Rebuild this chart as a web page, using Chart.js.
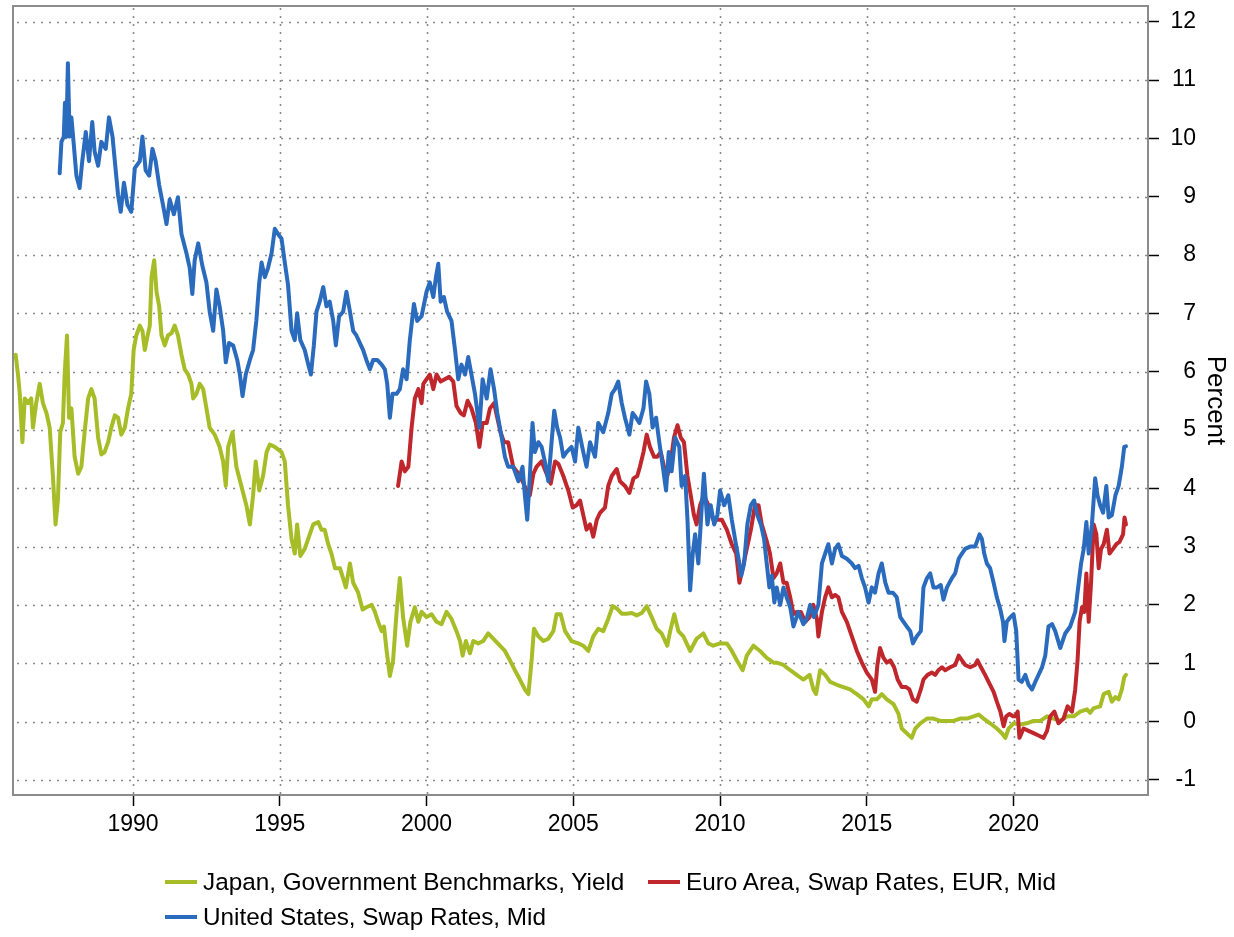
<!DOCTYPE html>
<html><head><meta charset="utf-8">
<script src="https://cdn.jsdelivr.net/npm/chart.js@4.4.0/dist/chart.umd.min.js"></script>
<style>
html,body{margin:0;padding:0;background:#fff;}
#wrap{position:relative;width:1234px;height:937px;}
#legend{position:absolute;left:0;top:0;width:1234px;height:937px;pointer-events:none;font-family:"Liberation Sans",Arial,sans-serif;font-size:24.3px;color:#000;}
.item{position:absolute;display:flex;align-items:center;white-space:nowrap;height:30px;}
.swatch{width:32px;height:4px;margin-right:6px;}
</style></head>
<body><div id="wrap"><canvas id="c" width="1234" height="937"></canvas><div id="legend"></div></div>
<script>
const xTickValues = [1990, 1995, 2000, 2005, 2010, 2015, 2020];
const yTickValues = [-1, 0, 1, 2, 3, 4, 5, 6, 7, 8, 9, 10, 11, 12];
const yTitle = "Percent";

const jpLabel = "Japan, Government Benchmarks, Yield";
const euLabel = "Euro Area, Swap Rates, EUR, Mid";
const usLabel = "United States, Swap Rates, Mid";

const jpDates = [1986.00,1986.08,1986.14,1986.23,1986.31,1986.42,1986.53,1986.59,1986.70,1986.82,1986.93,1987.05,1987.16,1987.27,1987.36,1987.44,1987.52,1987.61,1987.67,1987.75,1987.82,1987.90,1988.01,1988.13,1988.24,1988.35,1988.47,1988.58,1988.69,1988.81,1988.92,1989.03,1989.15,1989.26,1989.38,1989.49,1989.60,1989.72,1989.83,1989.94,1990.02,1990.11,1990.23,1990.32,1990.40,1990.48,1990.57,1990.63,1990.72,1990.80,1990.89,1990.97,1991.08,1991.19,1991.31,1991.42,1991.53,1991.65,1991.76,1991.88,1991.99,1992.05,1992.16,1992.27,1992.39,1992.50,1992.61,1992.78,1992.95,1993.07,1993.16,1993.24,1993.39,1993.52,1993.69,1993.86,1993.98,1994.09,1994.18,1994.30,1994.43,1994.55,1994.66,1994.83,1995.06,1995.17,1995.28,1995.40,1995.51,1995.59,1995.70,1995.85,1996.02,1996.14,1996.31,1996.42,1996.53,1996.65,1996.76,1996.88,1997.05,1997.25,1997.39,1997.50,1997.67,1997.82,1997.95,1998.13,1998.24,1998.35,1998.47,1998.55,1998.64,1998.75,1998.86,1998.98,1999.09,1999.20,1999.34,1999.45,1999.60,1999.72,1999.83,2000.00,2000.17,2000.34,2000.51,2000.68,2000.85,2001.02,2001.14,2001.23,2001.34,2001.48,2001.59,2001.76,2001.93,2002.10,2002.27,2002.50,2002.67,2002.84,2003.01,2003.18,2003.35,2003.47,2003.58,2003.66,2003.81,2003.98,2004.15,2004.32,2004.43,2004.57,2004.72,2004.94,2005.17,2005.34,2005.51,2005.68,2005.85,2006.02,2006.19,2006.34,2006.48,2006.65,2006.82,2006.99,2007.16,2007.33,2007.50,2007.67,2007.84,2008.01,2008.20,2008.30,2008.44,2008.58,2008.75,2008.98,2009.20,2009.43,2009.60,2009.77,2010.00,2010.23,2010.40,2010.57,2010.77,2010.91,2011.14,2011.36,2011.59,2011.82,2011.93,2012.16,2012.39,2012.61,2012.84,2013.05,2013.18,2013.27,2013.41,2013.58,2013.75,2013.98,2014.20,2014.43,2014.66,2014.89,2015.06,2015.17,2015.34,2015.51,2015.68,2015.91,2016.08,2016.19,2016.36,2016.53,2016.65,2016.82,2017.05,2017.27,2017.50,2017.73,2017.95,2018.18,2018.41,2018.64,2018.81,2018.98,2019.20,2019.43,2019.60,2019.72,2019.83,2020.00,2020.23,2020.45,2020.68,2020.91,2021.14,2021.36,2021.59,2021.82,2022.05,2022.27,2022.50,2022.61,2022.73,2022.95,2023.07,2023.24,2023.35,2023.47,2023.58,2023.69,2023.77,2023.83];
const jpValues = [6.29,5.95,5.62,4.79,5.54,5.46,5.54,5.04,5.46,5.79,5.46,5.29,5.04,4.21,3.38,3.79,4.96,5.12,5.95,6.62,5.21,5.37,4.54,4.25,4.37,4.96,5.54,5.70,5.54,4.87,4.58,4.62,4.79,5.04,5.25,5.21,4.92,5.04,5.37,5.62,6.37,6.62,6.79,6.70,6.37,6.58,6.79,7.62,7.91,7.37,7.12,6.62,6.45,6.62,6.66,6.79,6.62,6.29,6.04,5.95,5.79,5.54,5.62,5.79,5.70,5.37,5.04,4.92,4.71,4.46,4.04,4.71,4.96,4.37,4.04,3.71,3.38,3.88,4.46,3.96,4.21,4.62,4.75,4.71,4.62,4.46,3.71,3.13,2.88,3.38,2.84,2.96,3.21,3.38,3.42,3.29,3.29,3.04,2.88,2.63,2.63,2.30,2.71,2.38,2.21,1.92,1.96,2.00,1.88,1.71,1.55,1.63,1.21,0.78,1.05,1.88,2.46,1.79,1.30,1.71,1.96,1.71,1.88,1.79,1.84,1.71,1.67,1.88,1.76,1.55,1.38,1.13,1.38,1.17,1.38,1.34,1.38,1.51,1.42,1.30,1.21,1.05,0.88,0.72,0.55,0.47,1.05,1.59,1.46,1.38,1.42,1.55,1.84,1.84,1.55,1.38,1.34,1.30,1.21,1.46,1.59,1.55,1.76,1.98,1.94,1.85,1.85,1.86,1.82,1.86,1.98,1.79,1.59,1.51,1.30,1.55,1.84,1.55,1.46,1.21,1.42,1.51,1.34,1.30,1.34,1.34,1.21,1.05,0.88,1.13,1.30,1.21,1.09,1.01,1.01,0.97,0.88,0.80,0.72,0.80,0.55,0.47,0.88,0.80,0.68,0.63,0.59,0.55,0.47,0.38,0.26,0.38,0.38,0.47,0.38,0.30,0.13,-0.12,-0.20,-0.28,-0.12,-0.03,0.05,0.05,0.01,0.01,0.01,0.05,0.05,0.09,0.12,0.05,-0.03,-0.12,-0.20,-0.28,-0.12,-0.03,-0.05,-0.03,0.01,0.01,0.09,0.05,0.01,0.09,0.09,0.17,0.21,0.15,0.23,0.26,0.47,0.51,0.34,0.42,0.38,0.55,0.76,0.80];

const euDates = [1999.03,1999.15,1999.26,1999.38,1999.49,1999.60,1999.72,1999.83,1999.89,2000.00,2000.11,2000.23,2000.34,2000.48,2000.62,2000.77,2000.91,2001.02,2001.16,2001.27,2001.40,2001.53,2001.68,2001.80,2001.91,2002.05,2002.16,2002.30,2002.41,2002.52,2002.64,2002.78,2002.95,2003.13,2003.27,2003.41,2003.52,2003.64,2003.75,2003.92,2004.09,2004.23,2004.38,2004.49,2004.66,2004.83,2004.98,2005.11,2005.23,2005.34,2005.45,2005.57,2005.68,2005.80,2005.91,2006.08,2006.19,2006.31,2006.48,2006.59,2006.76,2006.91,2007.05,2007.18,2007.27,2007.39,2007.50,2007.61,2007.75,2007.86,2007.98,2008.09,2008.20,2008.32,2008.43,2008.55,2008.66,2008.77,2008.89,2009.00,2009.11,2009.20,2009.32,2009.45,2009.60,2009.77,2009.91,2010.06,2010.23,2010.40,2010.55,2010.66,2010.77,2010.91,2011.05,2011.19,2011.31,2011.42,2011.57,2011.70,2011.82,2011.93,2012.05,2012.16,2012.27,2012.39,2012.50,2012.61,2012.75,2012.90,2013.05,2013.18,2013.30,2013.35,2013.47,2013.58,2013.69,2013.81,2013.92,2014.03,2014.15,2014.32,2014.49,2014.66,2014.83,2015.00,2015.17,2015.28,2015.36,2015.45,2015.57,2015.68,2015.80,2015.93,2016.05,2016.19,2016.34,2016.45,2016.57,2016.70,2016.84,2016.93,2017.07,2017.22,2017.33,2017.44,2017.56,2017.67,2017.84,2018.01,2018.13,2018.24,2018.35,2018.52,2018.69,2018.77,2018.89,2019.03,2019.20,2019.32,2019.43,2019.55,2019.66,2019.75,2019.86,2019.98,2020.06,2020.14,2020.20,2020.34,2020.51,2020.68,2020.85,2021.02,2021.14,2021.25,2021.39,2021.53,2021.70,2021.84,2021.99,2022.10,2022.18,2022.25,2022.33,2022.41,2022.48,2022.56,2022.64,2022.73,2022.82,2022.90,2022.98,2023.07,2023.18,2023.27,2023.39,2023.50,2023.61,2023.73,2023.78,2023.83];
const euValues = [4.04,4.46,4.29,4.37,5.04,5.54,5.70,5.46,5.79,5.87,5.95,5.70,5.95,5.83,5.87,5.91,5.83,5.41,5.29,5.25,5.50,5.37,5.12,4.71,5.12,5.12,5.37,5.46,5.21,4.96,4.79,4.79,4.37,4.25,4.12,3.96,3.88,4.25,4.37,4.46,4.25,4.08,4.46,4.42,4.21,3.96,3.67,3.71,3.79,3.54,3.29,3.38,3.17,3.46,3.58,3.67,4.04,4.21,4.33,4.12,4.04,3.92,4.17,4.21,4.37,4.62,4.92,4.71,4.54,4.54,4.62,4.37,4.21,4.46,4.87,5.08,4.87,4.79,4.21,3.88,3.54,3.38,3.71,3.88,3.71,3.46,3.46,3.46,3.29,3.04,2.88,2.38,2.63,2.96,3.29,3.71,3.71,3.38,3.13,2.88,2.46,2.54,2.71,2.38,2.38,2.13,1.84,1.88,1.88,1.71,1.79,2.00,1.76,1.46,1.88,2.13,2.30,2.13,2.17,2.13,1.88,1.71,1.46,1.21,1.01,0.84,0.72,0.51,0.97,1.26,1.09,1.01,1.05,0.93,0.72,0.59,0.59,0.55,0.38,0.34,0.55,0.72,0.80,0.84,0.80,0.88,0.93,0.88,0.93,0.97,1.13,1.05,0.97,0.93,0.97,1.05,0.93,0.80,0.63,0.51,0.34,0.17,-0.08,0.09,0.13,0.09,0.09,0.17,-0.28,-0.12,-0.16,-0.20,-0.24,-0.28,-0.16,0.09,0.17,-0.03,0.05,0.26,0.17,0.55,1.05,1.71,1.96,1.88,2.54,1.71,2.38,3.38,3.21,2.63,2.96,3.04,3.29,2.88,2.96,3.04,3.08,3.21,3.50,3.38];

const usDates = [1987.50,1987.56,1987.64,1987.68,1987.73,1987.78,1987.84,1987.90,1987.98,1988.07,1988.18,1988.27,1988.39,1988.50,1988.61,1988.69,1988.81,1988.92,1989.07,1989.18,1989.30,1989.41,1989.49,1989.58,1989.69,1989.81,1989.94,1990.06,1990.23,1990.32,1990.43,1990.55,1990.66,1990.77,1990.89,1991.02,1991.14,1991.25,1991.39,1991.53,1991.65,1991.82,1991.93,1992.02,1992.10,1992.22,1992.36,1992.50,1992.61,1992.73,1992.84,1992.95,1993.07,1993.16,1993.27,1993.41,1993.55,1993.64,1993.73,1993.84,1993.98,1994.09,1994.20,1994.30,1994.38,1994.49,1994.60,1994.72,1994.83,1994.94,1995.06,1995.17,1995.28,1995.40,1995.51,1995.59,1995.70,1995.85,1995.97,1996.06,1996.16,1996.25,1996.36,1996.48,1996.59,1996.70,1996.82,1996.91,1997.02,1997.16,1997.27,1997.39,1997.50,1997.61,1997.73,1997.84,1997.95,1998.07,1998.18,1998.32,1998.47,1998.58,1998.66,1998.75,1998.84,1998.98,1999.09,1999.20,1999.32,1999.43,1999.57,1999.68,1999.83,2000.00,2000.11,2000.23,2000.32,2000.40,2000.48,2000.59,2000.70,2000.85,2000.97,2001.08,2001.19,2001.31,2001.42,2001.53,2001.65,2001.80,2001.91,2002.05,2002.18,2002.30,2002.41,2002.56,2002.67,2002.78,2002.95,2003.13,2003.27,2003.35,2003.43,2003.52,2003.61,2003.69,2003.81,2003.92,2004.03,2004.15,2004.26,2004.35,2004.45,2004.55,2004.66,2004.77,2004.94,2005.06,2005.17,2005.34,2005.45,2005.57,2005.74,2005.85,2006.02,2006.19,2006.31,2006.42,2006.53,2006.65,2006.76,2006.91,2007.02,2007.14,2007.25,2007.39,2007.48,2007.59,2007.70,2007.82,2007.93,2008.05,2008.16,2008.25,2008.35,2008.47,2008.61,2008.69,2008.81,2008.89,2008.98,2009.07,2009.15,2009.26,2009.38,2009.45,2009.57,2009.68,2009.80,2009.91,2010.00,2010.14,2010.28,2010.40,2010.51,2010.63,2010.72,2010.82,2010.93,2011.05,2011.16,2011.27,2011.39,2011.50,2011.59,2011.68,2011.76,2011.85,2011.93,2012.05,2012.16,2012.27,2012.39,2012.50,2012.67,2012.84,2012.95,2013.07,2013.20,2013.35,2013.47,2013.58,2013.69,2013.81,2013.92,2014.03,2014.15,2014.32,2014.49,2014.60,2014.72,2014.83,2014.94,2015.06,2015.17,2015.28,2015.40,2015.51,2015.63,2015.74,2015.89,2016.02,2016.14,2016.25,2016.36,2016.48,2016.57,2016.70,2016.84,2016.93,2017.05,2017.16,2017.27,2017.39,2017.52,2017.61,2017.73,2017.90,2018.01,2018.13,2018.24,2018.35,2018.52,2018.69,2018.84,2018.92,2019.00,2019.09,2019.20,2019.32,2019.43,2019.55,2019.64,2019.69,2019.77,2019.89,2020.00,2020.09,2020.17,2020.28,2020.40,2020.51,2020.63,2020.74,2020.85,2020.97,2021.08,2021.19,2021.31,2021.42,2021.59,2021.76,2021.93,2022.10,2022.22,2022.30,2022.39,2022.48,2022.56,2022.67,2022.78,2022.86,2022.95,2023.05,2023.16,2023.24,2023.35,2023.47,2023.58,2023.69,2023.77,2023.83];
const usValues = [9.40,9.94,10.03,10.61,10.03,11.29,10.03,10.36,9.90,9.36,9.15,9.61,10.11,9.61,10.28,9.78,9.53,9.94,9.82,10.36,10.03,9.45,9.03,8.74,9.24,8.86,8.74,9.49,9.61,10.03,9.45,9.36,9.82,9.61,9.20,8.86,8.53,8.95,8.70,8.99,8.36,8.03,7.78,7.33,7.91,8.20,7.82,7.53,7.03,6.70,7.41,7.12,6.70,6.16,6.49,6.45,6.20,5.95,5.58,5.95,6.20,6.37,6.87,7.53,7.87,7.62,7.78,8.03,8.45,8.36,8.28,7.87,7.49,6.70,6.54,7.00,6.54,6.37,6.12,5.95,6.45,7.03,7.20,7.45,7.12,7.20,6.87,6.45,6.95,7.03,7.37,7.03,6.70,6.62,6.49,6.37,6.20,6.04,6.20,6.20,6.12,6.04,5.79,5.21,5.62,5.62,5.70,6.04,5.87,6.54,7.16,6.87,6.95,7.37,7.53,7.28,7.62,7.85,7.20,7.28,7.03,6.87,6.37,5.87,6.12,5.95,6.25,5.95,5.62,5.04,5.87,5.54,6.04,5.70,5.29,4.87,4.54,4.37,4.37,4.12,4.37,3.88,3.46,4.21,5.12,4.62,4.79,4.71,4.46,4.12,4.79,5.33,5.04,4.87,4.54,4.62,4.71,4.46,5.04,4.62,4.37,4.79,4.54,5.12,4.96,5.29,5.62,5.70,5.83,5.46,5.21,4.92,5.29,5.21,5.12,5.37,5.83,5.62,5.04,5.21,4.79,4.37,3.96,4.62,4.29,4.87,4.71,4.04,4.21,3.46,2.25,2.88,3.21,2.71,3.71,4.25,3.38,3.71,3.38,3.54,3.96,3.71,3.88,3.46,3.13,2.79,2.50,2.71,3.38,3.71,3.79,3.54,3.38,3.13,2.71,2.30,2.50,2.04,2.30,2.00,2.30,2.13,1.96,1.63,1.88,1.67,1.76,2.00,1.79,2.00,2.71,2.88,3.04,2.71,2.96,3.04,2.84,2.79,2.71,2.63,2.67,2.46,2.30,2.04,2.30,2.21,2.54,2.71,2.38,2.21,2.21,2.13,1.79,1.71,1.63,1.55,1.34,1.46,1.55,2.30,2.46,2.54,2.30,2.30,2.34,2.09,2.30,2.46,2.54,2.79,2.88,2.96,3.00,3.00,3.21,3.13,2.88,2.71,2.63,2.38,2.13,1.92,1.71,1.38,1.71,1.79,1.84,1.55,0.72,0.68,0.80,0.63,0.55,0.68,0.80,0.93,1.13,1.63,1.67,1.55,1.26,1.51,1.63,1.88,2.38,2.71,2.96,3.42,2.88,3.38,4.17,3.88,3.71,3.58,4.04,3.50,3.54,3.88,4.04,4.37,4.71,4.72];

const colJP = "#a6bd27";
const colEU = "#c0272d";
const colUS = "#2a6bbd";

const FONT = '"Liberation Sans", Arial, sans-serif';
const pts = (d, v) => d.map((x, i) => ({x: x, y: v[i]}));

const gridPlugin = {
  id: 'gridFrame',
  beforeDatasetsDraw(chart) {
    const {ctx, chartArea: a, scales: {x, y}} = chart;
    ctx.save();
    ctx.strokeStyle = '#8a8a8a';
    ctx.lineWidth = 1.6;
    ctx.setLineDash([2, 6]);
    yTickValues.forEach(v => {
      const py = Math.round(y.getPixelForValue(v)) + 0.5;
      ctx.beginPath(); ctx.moveTo(a.left + 4, py); ctx.lineTo(a.right, py); ctx.stroke();
    });
    xTickValues.forEach(v => {
      const px = Math.round(x.getPixelForValue(v)) + 0.5;
      ctx.beginPath(); ctx.moveTo(px, a.top + 2); ctx.lineTo(px, a.bottom); ctx.stroke();
    });
    ctx.setLineDash([]);
    ctx.strokeStyle = '#8c8c8c';
    ctx.lineWidth = 2;
    ctx.strokeRect(a.left, a.top, a.right - a.left, a.bottom - a.top);
    ctx.restore();
  },
  afterDraw(chart) {
    const {ctx, chartArea: a} = chart;
    ctx.save();
    ctx.translate(1215, (a.top + a.bottom) / 2);
    ctx.rotate(Math.PI / 2);
    ctx.fillStyle = '#000';
    ctx.font = '26px ' + FONT;
    ctx.textAlign = 'center';
    ctx.textBaseline = 'middle';
    ctx.fillText(yTitle, 0, 0);
    ctx.restore();
  }
};

const chart = new Chart(document.getElementById('c'), {
  type: 'line',
  data: {
    datasets: [
      {label: jpLabel, data: pts(jpDates, jpValues), borderColor: colJP, backgroundColor: colJP, order: 2},
      {label: euLabel, data: pts(euDates, euValues), borderColor: colEU, backgroundColor: colEU, order: 1},
      {label: usLabel, data: pts(usDates, usValues), borderColor: colUS, backgroundColor: colUS, order: 0}
    ]
  },
  options: {
    responsive: false,
    animation: false,
    events: [],
    elements: {
      line: {borderWidth: 4, tension: 0, borderJoinStyle: 'round', borderCapStyle: 'round'},
      point: {radius: 0}
    },
    layout: {padding: {left: 13, top: 6, right: 38, bottom: 97}},
    plugins: {legend: {display: false}, tooltip: {enabled: false}},
    scales: {
      x: {
        type: 'linear', position: 'bottom', min: 1985.91, max: 2024.58,
        afterBuildTicks: s => { s.ticks = xTickValues.map(v => ({value: v})); },
        afterFit: s => { s.height = 45; s.paddingLeft = 0; s.paddingRight = 0; },
        ticks: {autoSkip: false, maxRotation: 0, padding: 5, color: '#000', font: {family: FONT, size: 23}, callback: v => String(v)},
        grid: {drawOnChartArea: false, drawTicks: true, tickLength: 11, tickColor: '#000', tickWidth: 1.5},
        border: {display: false}
      },
      y: {
        type: 'linear', position: 'right', min: -1.26, max: 12.27,
        afterBuildTicks: s => { s.ticks = yTickValues.map(v => ({value: v})); },
        afterFit: s => { s.width = 48; s.paddingTop = 0; s.paddingBottom = 0; },
        ticks: {autoSkip: false, crossAlign: 'far', padding: 12, color: '#000', font: {family: FONT, size: 23}, callback: v => String(v)},
        grid: {drawOnChartArea: false, drawTicks: true, tickLength: 11, tickColor: '#000', tickWidth: 1.5},
        border: {display: false}
      }
    }
  },
  plugins: [gridPlugin]
});

// HTML legend built from the chart's datasets
const legendPos = [[165, 867], [648, 867], [165, 902]];
const leg = document.getElementById('legend');
chart.data.datasets.forEach((ds, i) => {
  const it = document.createElement('div');
  it.className = 'item';
  it.style.left = legendPos[i][0] + 'px';
  it.style.top = legendPos[i][1] + 'px';
  const sw = document.createElement('span');
  sw.className = 'swatch';
  sw.style.background = ds.borderColor;
  const tx = document.createElement('span');
  tx.textContent = ds.label;
  it.appendChild(sw); it.appendChild(tx);
  leg.appendChild(it);
});
</script>
</body></html>
